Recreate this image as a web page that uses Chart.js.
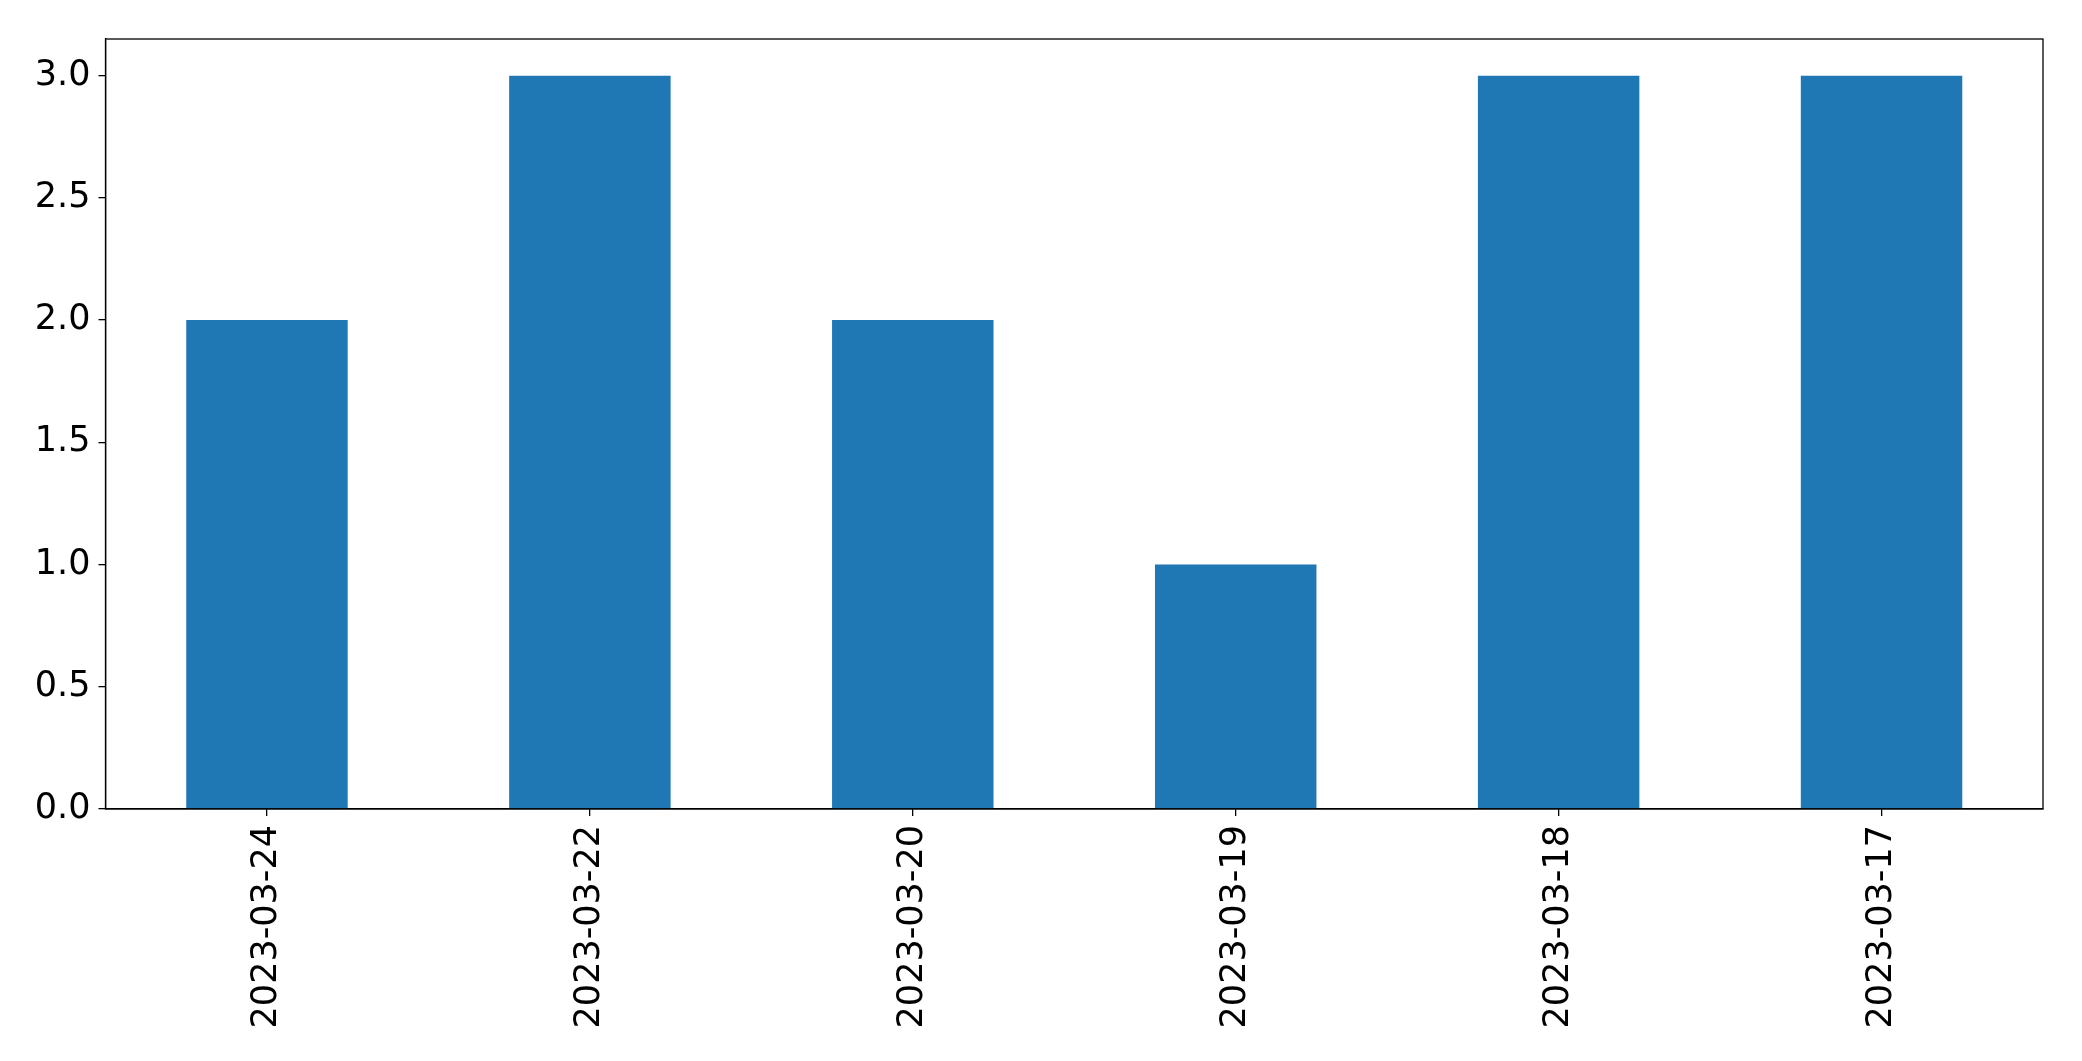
<!DOCTYPE html>
<html>
<head>
<meta charset="utf-8">
<script src="https://cdn.jsdelivr.net/npm/chart.js@4/dist/chart.umd.min.js"></script>
<style>
    html, body { margin: 0; padding: 0; background: #fff; }
    canvas { display: block; }
</style>
</head>
<body>
<canvas id="barChart" width="2082" height="1061"></canvas>
<script>
// Données
const dates = ['2023-03-24', '2023-03-22', '2023-03-20', '2023-03-19', '2023-03-18', '2023-03-17'];
const counts = [2, 3, 2, 1, 3, 3];
const yMax = 3.15;
const yStep = 0.5;

const tickFont = { family: 'DejaVu Sans', size: 35 };

// Cadre complet autour de la zone de tracé
const frame = {
    id: 'frame',
    afterDraw(chart) {
        const { ctx, chartArea: a } = chart;
        ctx.save();
        ctx.strokeStyle = '#000';
        ctx.lineWidth = 1.3;
        ctx.strokeRect(a.left, a.top, a.right - a.left, a.bottom - a.top);
        ctx.restore();
    }
};

const ctx = document.getElementById('barChart').getContext('2d');

new Chart(ctx, {
    type: 'bar',
    data: {
        labels: dates,
        datasets: [{
            data: counts,
            backgroundColor: '#1f77b4',
            borderWidth: 0,
            categoryPercentage: 0.5,
            barPercentage: 1.0
        }]
    },
    options: {
        responsive: false,
        animation: false,
        layout: { padding: { top: 39, right: 39, left: 0, bottom: 0 } },
        plugins: {
            legend: { display: false },
            tooltip: { enabled: false }
        },
        scales: {
            x: {
                offset: true,
                grid: { offset: false, drawOnChartArea: false, drawTicks: true, tickLength: 7, color: '#000', lineWidth: 1.3 },
                border: { display: true, color: '#000', width: 1.3 },
                ticks: {
                    autoSkip: false,
                    maxRotation: 90,
                    minRotation: 90,
                    padding: 9,
                    color: '#000',
                    font: tickFont
                },
                afterFit: (scale) => { scale.height = 252; }
            },
            y: {
                min: 0,
                max: yMax,
                grid: { drawOnChartArea: false, drawTicks: true, tickLength: 7, color: '#000', lineWidth: 1.3 },
                border: { display: true, color: '#000', width: 1.3 },
                ticks: {
                    stepSize: yStep,
                    includeBounds: false,
                    padding: 8,
                    color: '#000',
                    font: tickFont,
                    callback: (v) => Number(v).toFixed(1)
                },
                afterFit: (scale) => { scale.width = 105.5; }
            }
        }
    },
    plugins: [frame]
});
</script>
</body>
</html>
